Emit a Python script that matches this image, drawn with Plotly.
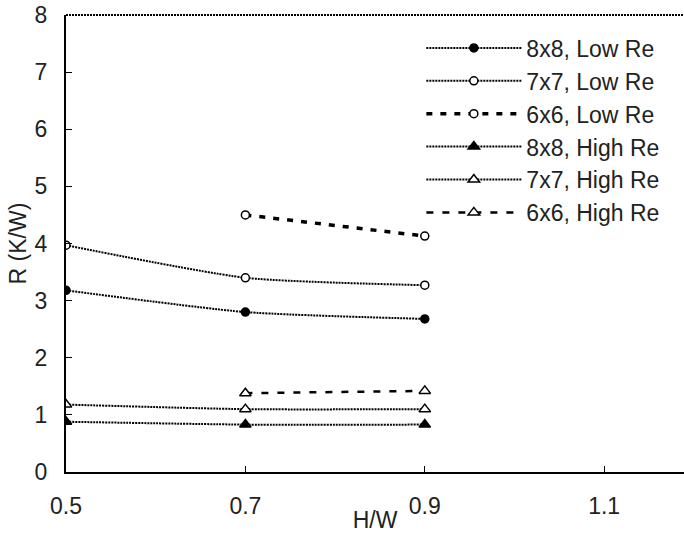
import plotly.graph_objects as go

hw_full = [0.5, 0.7, 0.9]
hw_part = [0.7, 0.9]

r_8x8_low = [3.18, 2.80, 2.68]
r_7x7_low = [3.97, 3.40, 3.27]
r_6x6_low = [4.50, 4.13]
r_8x8_high = [0.88, 0.83, 0.83]
r_7x7_high = [1.18, 1.10, 1.10]
r_6x6_high = [1.38, 1.42]

names = ["8x8, Low Re", "7x7, Low Re", "6x6, Low Re",
         "8x8, High Re", "7x7, High Re", "6x6, High Re"]

x_ticks = [0.5, 0.7, 0.9, 1.1]
y_ticks = [0, 1, 2, 3, 4, 5, 6, 7, 8]

fig = go.Figure()

solid = dict(color="black", width=2, dash="2px,1px", shape="spline", smoothing=0.6)

def add(x, y, name, line, symbol, fill, size):
    fig.add_trace(go.Scatter(
        x=x, y=y, name=name, mode="lines+markers", line=line,
        legendgroup=name,
        marker=dict(symbol=symbol, size=size, color=fill,
                    line=dict(color="black", width=1.5)),
    ))

add(hw_full, r_8x8_low, names[0], solid, "circle", "black", 8)
add(hw_full, r_7x7_low, names[1], solid, "circle", "white", 8)
add(hw_part, r_6x6_low, names[2], dict(color="black", width=3.5, dash="6px,8px"), "circle", "white", 8)
add(hw_full, r_8x8_high, names[3], solid, "triangle-up", "black", 10)
add(hw_full, r_7x7_high, names[4], solid, "triangle-up", "white", 10)
add(hw_part, r_6x6_high, names[5], dict(color="black", width=2.5, dash="7px,9px"), "triangle-up", "white", 10)

# dotted top frame line
fig.add_shape(type="line", xref="paper", yref="paper", x0=0, x1=1, y0=1, y1=1,
              line=dict(color="black", width=2, dash="2px,1px"))

fig.update_layout(
    width=684, height=533,
    margin=dict(l=66, r=0, t=15, b=61),
    paper_bgcolor="white", plot_bgcolor="white",
    font=dict(family="Liberation Sans, Arial, sans-serif", size=23, color="#222"),
    showlegend=True,
    legend=dict(x=0.575, y=0.975, xanchor="left", yanchor="top",
                bgcolor="rgba(0,0,0,0)", itemwidth=95,
                tracegroupgap=0, font=dict(size=23)),
    xaxis=dict(range=[0.5, 1.189], tickvals=x_ticks, ticktext=["0.5", "0.7", "0.9", "1.1"],
               ticks="inside", ticklen=6, tickcolor="black", showgrid=False,
               zeroline=False, showline=True, linecolor="black", linewidth=2,
               ticklabelstandoff=12, automargin=False,
               title=dict(text="H/W", standoff=0, font=dict(size=23)),
               tickfont=dict(size=23)),
    yaxis=dict(range=[0, 8], tickvals=y_ticks, ticks="inside", ticklen=6,
               tickcolor="black", showgrid=False, zeroline=False, showline=True,
               linecolor="black", linewidth=2, ticklabelstandoff=12, automargin=False,
               title=dict(text="R (K/W)", standoff=2, font=dict(size=23)),
               tickfont=dict(size=23)),
)

fig.write_html("out.html")
